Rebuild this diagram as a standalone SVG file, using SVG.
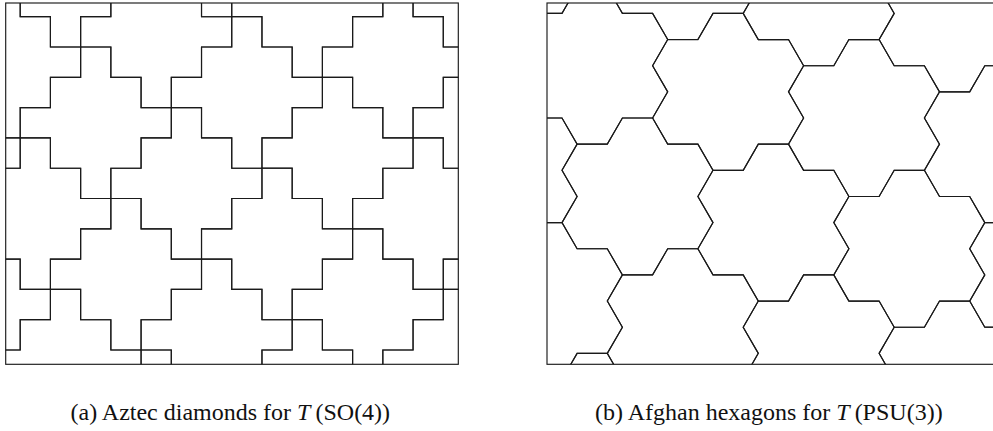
<svg xmlns="http://www.w3.org/2000/svg" xmlns:xlink="http://www.w3.org/1999/xlink" width="993" height="431" viewBox="0 0 993 431">
<style>
.ln{fill:none;stroke:#1a1a1a;stroke-width:1.15;stroke-linejoin:miter}
.cap{font-family:"Liberation Serif","Times New Roman",serif;font-size:24px;fill:#111}
</style>
<defs>
<path id="dia" class="ln" d="M0,-60.6 h30.22 v30.3 h30.22 v30.3 h30.22 v30.3 h-30.22 v30.3 h-30.22 v30.3 h-30.22 v-30.3 h-30.22 v-30.3 h-30.22 v-30.3 h30.22 v-30.3 h30.22 z"/>
<path id="hex" class="ln" d="M15.1,-78.45 L30.2,-52.3 L60.4,-52.3 L75.5,-26.15 L60.4,0 L75.5,26.15 L60.4,52.3 L30.2,52.3 L15.1,78.45 L-15.1,78.45 L-30.2,52.3 L-60.4,52.3 L-75.5,26.15 L-60.4,0 L-75.5,-26.15 L-60.4,-52.3 L-30.2,-52.3 L-15.1,-78.45 Z"/>
<clipPath id="clipA"><rect x="5.7" y="3" width="452.6" height="361.3"/></clipPath>
<clipPath id="clipB"><rect x="547" y="3" width="452.6" height="361.3"/></clipPath>
</defs>
<rect width="993" height="431" fill="#fff"/>

<g id="aztec">
<g clip-path="url(#clipA)">
<use href="#dia" x="201.52" y="-74.2"/>
<use href="#dia" x="50.42" y="-43.9"/>
<use href="#dia" x="443.28" y="-43.9"/>
<use href="#dia" x="292.18" y="-13.6"/>
<use href="#dia" x="141.08" y="16.7"/>
<use href="#dia" x="382.84" y="47"/>
<use href="#dia" x="-10.02" y="47"/>
<use href="#dia" x="231.74" y="77.3"/>
<use href="#dia" x="80.64" y="107.6"/>
<use href="#dia" x="473.5" y="107.6"/>
<use href="#dia" x="322.4" y="137.9"/>
<use href="#dia" x="-70.46" y="137.9"/>
<use href="#dia" x="171.3" y="168.2"/>
<use href="#dia" x="20.2" y="198.5"/>
<use href="#dia" x="413.06" y="198.5"/>
<use href="#dia" x="261.96" y="228.8"/>
<use href="#dia" x="110.86" y="259.1"/>
<use href="#dia" x="503.72" y="259.1"/>
<use href="#dia" x="352.62" y="289.4"/>
<use href="#dia" x="-40.24" y="289.4"/>
<use href="#dia" x="201.52" y="319.7"/>
<use href="#dia" x="50.42" y="350"/>
<use href="#dia" x="443.28" y="350"/>
<use href="#dia" x="292.18" y="380.3"/>
<use href="#dia" x="141.08" y="410.6"/>
</g>
<rect class="ln" x="5.7" y="3" width="452.6" height="361.3"/>
</g>

<g id="afghan">
<g clip-path="url(#clipB)">
<use href="#hex" x="546.9" y="-65.05"/>
<use href="#hex" x="682.8" y="-38.9"/>
<use href="#hex" x="818.7" y="-12.75"/>
<use href="#hex" x="954.6" y="13.4"/>
<use href="#hex" x="592.2" y="65.7"/>
<use href="#hex" x="728.1" y="91.85"/>
<use href="#hex" x="864" y="118"/>
<use href="#hex" x="999.9" y="144.15"/>
<use href="#hex" x="501.6" y="170.3"/>
<use href="#hex" x="637.5" y="196.45"/>
<use href="#hex" x="773.4" y="222.6"/>
<use href="#hex" x="909.3" y="248.75"/>
<use href="#hex" x="1045.2" y="274.9"/>
<use href="#hex" x="546.9" y="301.05"/>
<use href="#hex" x="682.8" y="327.2"/>
<use href="#hex" x="818.7" y="353.35"/>
<use href="#hex" x="954.6" y="379.5"/>
<use href="#hex" x="592.2" y="431.8"/>
</g>
<rect class="ln" x="547" y="3" width="452.6" height="361.3"/>
</g>

<g id="captions">
<text class="cap" x="70.5" y="420">(a) Aztec diamonds for <tspan font-style="italic">T</tspan><tspan dx="5">(SO(4))</tspan></text>
<text class="cap" x="595" y="420">(b) Afghan hexagons for <tspan font-style="italic">T</tspan><tspan dx="5">(PSU(3))</tspan></text>
</g>
</svg>
